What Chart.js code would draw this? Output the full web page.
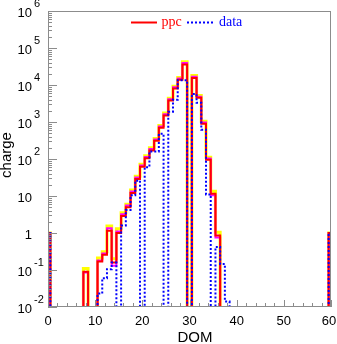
<!DOCTYPE html>
<html><head><meta charset="utf-8">
<script src="https://cdn.jsdelivr.net/npm/chart.js@4/dist/chart.umd.min.js"></script>
<style>html,body{margin:0;padding:0;background:#fff}#wrap{width:337px;height:344px}</style>
</head><body><div id="wrap"><canvas id="c" width="337" height="344"></canvas></div>
<script>
// DOM bins (categories)
const doms = [0,1,2,3,4,5,6,7,8,9,10,11,12,13,14,15,16,17,18,19,20,21,22,23,24,25,26,27,28,29,30,
  31,32,33,34,35,36,37,38,39,40,41,42,43,44,45,46,47,48,49,50,51,52,53,54,55,56,57,58,59,60];
// ppc simulation (red)
const ppc = [1, 0,0,0,0,0,0,0, 0.09, 0,0,
  0.17,0.26,1.15,0.16,1.0,2.9,5.0,12,29,62,105,170,310,700,1500,3800,8000,13800,36000,0,
  15500,4500,900,95,11.5,0.85,
  0,0,0,0,0,0,0,0,0,0,0,0,0,0,0,0,0,0,0,0,0,0,0, 1];
// ppc variation band, upper (yellow)
const ppcUpper = [1, 0,0,0,0,0,0,0, 0.11, 0,0,
  0.21,0.31,1.55,0.2,1.3,3.5,6.0,14.5,34,72,122,200,360,810,1740,4400,9300,16000,42500,0,
  18000,5200,1050,112,13.5,1.05,
  0,0,0,0,0,0,0,0,0,0,0,0,0,0,0,0,0,0,0,0,0,0,0, 1];
// ppc variation band, middle (magenta)
const ppcMid = [1, 0,0,0,0,0,0,0, 0.085, 0,0,
  0.18,0.28,1.35,0.13,1.1,3.2,5.5,13.3,31.5,67,113,185,335,755,1620,4100,8650,14900,39500,0,
  16700,4850,970,103,10.5,0.75,
  0,0,0,0,0,0,0,0,0,0,0,0,0,0,0,0,0,0,0,0,0,0,0, 1];
// measured data (blue)
const dataVals = [1, 0,0,0,0,0,0,0,0,0,0,
  0.023,0.06,0.105,0.16,0,1.6,4.2,10.5,26,0,60,160,160,480,0,1900,4000,13500,13500,0,
  5700,3300,620,11,0,0.42,0.145,0.014,
  0,0,0,0,0,0,0,0,0,0,0,0,0,0,0,0,0,0,0,0,0, 1];
const xTicks = [0,10,20,30,40,50,60];
const yTicks = [0.01,0.1,1,10,100,1000,10000,100000,1000000];
const yTickBase = ['10','10','1','10','10','10','10','10','10'];
const yTickExp = ['-2','-1','','','2','3','4','5','6'];

const FLOOR = 1e-6;
function steps(vals){
  const pts = [{x: doms[0]-0.5, y: FLOOR}];
  vals.forEach((v,i) => pts.push({x: doms[i]-0.5, y: v>0 ? v : FLOOR}));
  const last = doms[doms.length-1]+0.5, lv = vals[vals.length-1];
  pts.push({x: last, y: lv>0 ? lv : FLOOR});
  pts.push({x: last, y: FLOOR});
  return pts;
}
function ds(vals, color, width, order, dash){
  return {data: steps(vals), borderColor: color, borderWidth: width, borderDash: dash||[], order: order,
    pointRadius: 0, stepped: 'before', fill: false, clip: 0, borderCapStyle: 'butt', borderJoinStyle: 'miter'};
}
const AX = '#8c8c8c';
const deco = {
  id: 'deco',
  afterDatasetsDraw(chart){
    const ctx = chart.ctx, a = chart.chartArea, xs = chart.scales.x, ys = chart.scales.y;
    ctx.save();
    ctx.strokeStyle = AX; ctx.lineWidth = 1;
    ctx.strokeRect(a.left+0.5, a.top+0.5, a.right-a.left-1, a.bottom-a.top-1);
    ctx.beginPath();
    for (let k=-2; k<=6; k++){
      const p = Math.round(ys.getPixelForValue(Math.pow(10,k)))+0.5;
      ctx.moveTo(a.left, p); ctx.lineTo(a.left+9, p);
      if (k<6) for (let m=2; m<=9; m++){
        const q = Math.round(ys.getPixelForValue(m*Math.pow(10,k)))+0.5;
        ctx.moveTo(a.left, q); ctx.lineTo(a.left+4, q);
      }
    }
    for (let v=0; v<=60; v+=2){
      const p = Math.round(xs.getPixelForValue(v))+0.5;
      const len = (v%10===0) ? 7 : 4;
      ctx.moveTo(p, a.bottom); ctx.lineTo(p, a.bottom-len);
    }
    ctx.stroke();
    ctx.fillStyle = '#000';
    yTicks.forEach((v,i) => {
      const p = ys.getPixelForValue(v);
      ctx.font = '13px "Liberation Sans", Arial, sans-serif';
      ctx.textAlign = 'right'; ctx.textBaseline = 'middle';
      ctx.fillText(yTickBase[i], 32, p+2);
      if (yTickExp[i]){
        ctx.font = '11px "Liberation Sans", Arial, sans-serif';
        ctx.textAlign = 'left';
        ctx.fillText(yTickExp[i], 34, p-7);
      }
    });
    ctx.font = '13px "Liberation Sans", Arial, sans-serif';
    ctx.textAlign = 'center'; ctx.textBaseline = 'middle';
    xTicks.forEach(v => ctx.fillText(String(v), Math.min(xs.getPixelForValue(v), 329), 321));
    ctx.font = '15px "Liberation Sans", Arial, sans-serif';
    ctx.fillText('DOM', 195, 338);
    ctx.save(); ctx.translate(7, 155); ctx.rotate(-Math.PI/2);
    ctx.fillText('charge', 0, 0); ctx.restore();
    ctx.lineWidth = 2;
    ctx.strokeStyle = '#ff0000'; ctx.setLineDash([]);
    ctx.beginPath(); ctx.moveTo(131, 22.5); ctx.lineTo(157, 22.5); ctx.stroke();
    ctx.strokeStyle = '#0000ff'; ctx.setLineDash([2,2]);
    ctx.beginPath(); ctx.moveTo(187, 22.5); ctx.lineTo(213, 22.5); ctx.stroke();
    ctx.setLineDash([]);
    ctx.font = '14px "Liberation Serif", "Times New Roman", serif';
    ctx.textAlign = 'left'; ctx.textBaseline = 'alphabetic';
    ctx.fillStyle = '#ff0000'; ctx.fillText('ppc', 161.5, 25.5);
    ctx.fillStyle = '#0000ff'; ctx.fillText('data', 219, 25.5);
    ctx.restore();
  }
};
new Chart(document.getElementById('c'), {
  type: 'line',
  data: { datasets: [
    ds(ppcUpper, '#ffff00', 3, 3),
    ds(ppcMid, '#ff00ff', 2, 2),
    ds(ppc, '#ff0000', 2, 1),
    ds(dataVals, '#0000ff', 2, 0, [2,2])
  ]},
  options: {
    responsive: false, devicePixelRatio: 1, animation: false,
    layout: { padding: {left: 48, right: 6, top: 11, bottom: 37} },
    plugins: { legend: {display: false}, tooltip: {enabled: false} },
    scales: {
      x: { type: 'linear', min: 0, max: 60, display: false },
      y: { type: 'logarithmic', min: 0.01, max: 1000000, display: false }
    }
  },
  plugins: [deco]
});
</script></body></html>
